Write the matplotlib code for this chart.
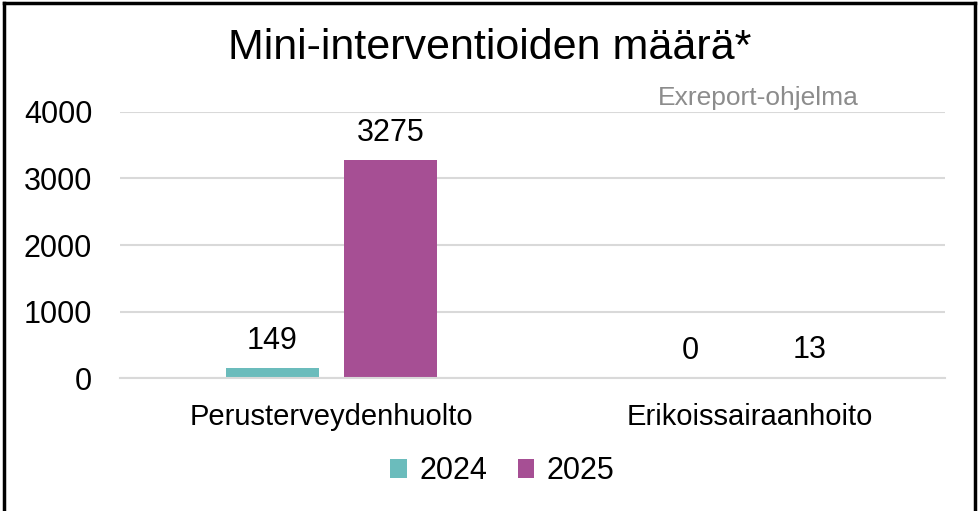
import numpy as np
import matplotlib.pyplot as plt
from matplotlib.lines import Line2D

# ── data ──────────────────────────────────────────────────────────────
categories = ['Perusterveydenhuolto', 'Erikoissairaanhoito']
years = ['2024', '2025']
values_2024 = [149, 0]
values_2025 = [3275, 13]
colors = ['#6BBCBC', '#A64F94']

plt.rcParams['font.family'] = ['Liberation Sans', 'DejaVu Sans']

fig = plt.figure(figsize=(9.79, 5.11), dpi=100)
ax = fig.add_axes([0.1226, 0.260, 0.8426, 0.521])

x = np.arange(len(categories))
w = 0.222
off = 0.142
b1 = ax.bar(x - off, values_2024, w, color=colors[0], label=years[0], zorder=3)
b2 = ax.bar(x + off, values_2025, w, color=colors[1], label=years[1], zorder=3)
ax.bar_label(b1, padding=9, fontsize=22)
ax.bar_label(b2, padding=9, fontsize=22)

ax.set_ylim(0, 4000)
ax.set_xlim(-0.505, 1.465)
ax.set_yticks([0, 1000, 2000, 3000, 4000])
ax.set_xticks(x)
ax.set_xticklabels(categories)
ax.tick_params(axis='y', length=0, pad=20, labelsize=22)
ax.tick_params(axis='x', length=0, pad=18, labelsize=21)
ax.grid(axis='y', color='#D9D9D9', linewidth=1.5, zorder=0)
for s in ['top', 'right', 'left']:
    ax.spines[s].set_visible(False)
ax.spines['bottom'].set_color('#D9D9D9')
ax.spines['bottom'].set_linewidth(1.5)
ax.spines['bottom'].set_zorder(4)

fig.text(0.50, 0.906, 'Mini-interventioiden määrä*', ha='center', va='center', fontsize=31)
fig.text(0.775, 0.808, 'Exreport-ohjelma', ha='center', va='center', fontsize=19, color='#8C8C8C')

fig.legend(loc='center', bbox_to_anchor=(0.513, 0.078), ncol=2, frameon=False,
           fontsize=22, handlelength=0.55, handleheight=0.55, handletextpad=0.4,
           columnspacing=1.0)

# outer frame
for xs, ys in [([0.004, 0.004], [0.0, 0.994]), ([0.004, 0.996], [0.994, 0.994]),
               ([0.996, 0.996], [0.0, 0.994])]:
    fig.add_artist(Line2D(xs, ys, color='black', linewidth=2.5, transform=fig.transFigure))

fig.savefig('out.png', dpi=100)
